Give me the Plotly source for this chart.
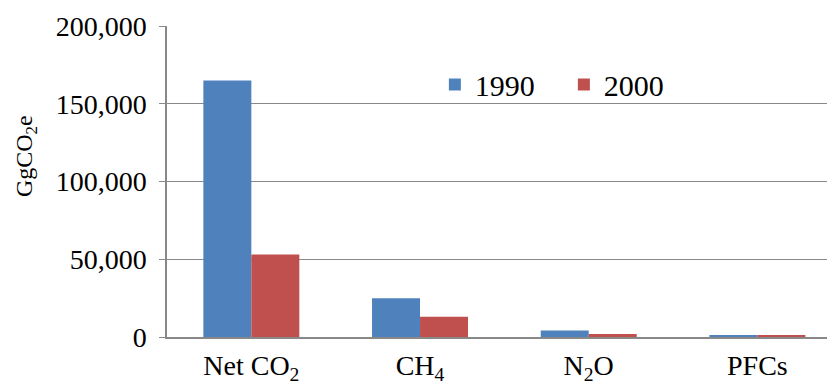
import plotly.graph_objects as go

categories = ["Net CO<sub>2</sub>", "CH<sub>4</sub>", "N<sub>2</sub>O", "PFCs"]
values_1990 = [165000, 25000, 4200, 900]
values_2000 = [53000, 13000, 2000, 800]
y_ticks = [0, 50000, 100000, 150000, 200000]
y_labels = ["0", "50,000", "100,000", "150,000", "200,000"]
y_title = "GgCO<sub>2</sub>e"

font_family = "Liberation Serif"

fig = go.Figure()
fig.add_trace(go.Bar(name="1990", x=categories, y=values_1990,
                     marker=dict(color="#4F81BD", line=dict(width=0))))
fig.add_trace(go.Bar(name="2000", x=categories, y=values_2000,
                     marker=dict(color="#C0504D", line=dict(width=0))))

fig.update_layout(
    width=827, height=377,
    margin=dict(l=159, r=0, t=18, b=48),
    paper_bgcolor="white", plot_bgcolor="white",
    barmode="group", bargap=0.431, bargroupgap=0,
    font=dict(family=font_family, color="black", size=28),
    showlegend=True,
    legend=dict(orientation="h", x=0.401, y=0.812, xanchor="left", yanchor="middle",
                font=dict(size=30, family=font_family), bgcolor="rgba(0,0,0,0)",
                itemwidth=30, tracegroupgap=0, entrywidth=84),
    yaxis=dict(range=[0, 200000], tickvals=y_ticks, ticktext=y_labels,
               showgrid=True, gridcolor="#898989", gridwidth=1.3,
               showline=True, linecolor="#898989", linewidth=1.5,
               ticks="outside", ticklen=6, tickcolor="#898989", tickwidth=1.3,
               tickfont=dict(size=28, family=font_family), zeroline=False,
               ticklabelstandoff=7),
    xaxis=dict(showline=True, linecolor="#898989", linewidth=1.5,
               range=[-0.5, 3.46],
               ticks="", tickfont=dict(size=28, family=font_family), showgrid=False,
               ticklabelstandoff=3),
    annotations=[dict(text=y_title, textangle=-90, xref="paper", yref="paper",
                      x=-0.211, y=0.582, xanchor="center", yanchor="middle",
                      showarrow=False, font=dict(size=24, family=font_family))],
)

fig.write_html("out.html")
